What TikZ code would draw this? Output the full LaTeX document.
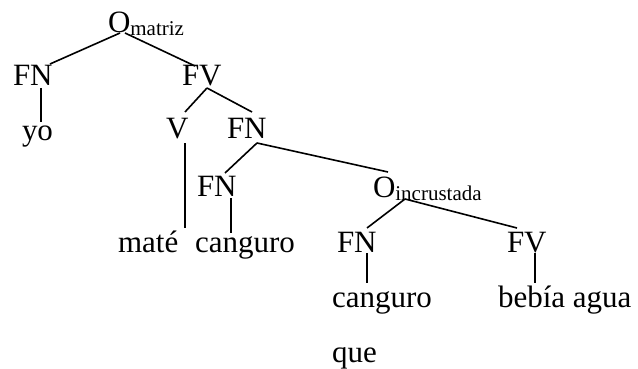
\documentclass[tikz,border=0pt]{standalone}
\usepackage{fontspec}
\setmainfont{Liberation Serif}
\usepackage{tikz}

% lowered small label after a category
\newcommand\subnom[1]{\raisebox{-3pt}{\fontsize{21}{25}\selectfont #1}}

\begin{document}
\begin{tikzpicture}[x=1pt,y=-1pt,
  word/.style={anchor=base west,inner sep=0pt,outer sep=0pt,font=\fontsize{31}{37}\selectfont},
  branch/.style={line width=1.6pt}]
\useasboundingbox (0,0) rectangle (638,369);

\node[word] (om)    at (108,33)  {O\subnom{matriz}};
\node[word] (fnA)   at (13,86)   {FN};
\node[word] (yo)    at (22,140)  {yo};
\node[word] (fvA)   at (182,86)  {FV};
\node[word] (v)     at (166,139) {V};
\node[word] (fnB)   at (227,139) {FN};
\node[word] (fnC)   at (197,196) {FN};
\node[word] (oi)    at (373,197) {O\subnom{incrustada}};
\node[word] (mate)  at (118,252) {maté};
\node[word] (cangA) at (195,252) {canguro};
\node[word] (fnD)   at (337,252) {FN};
\node[word] (fvB)   at (507,252) {FV};
\node[word] (cangB) at (332,307) {canguro};
\node[word] (bebia) at (498,307) {bebía agua};
\node[word] (que)   at (332,362) {que};

% main clause
\draw[branch] ([shift={(12,0)}]om.base west) -- ([shift={(37,-22)}]fnA.base west);
\draw[branch] ([shift={(17,0)}]om.base west) -- ([shift={(13,-20)}]fvA.base west);
\draw[branch] ([shift={(28,2)}]fnA.base west) -- ([shift={(19,-18)}]yo.base west);
\draw[branch] ([shift={(25,2)}]fvA.base west) -- ([shift={(19,-27)}]v.base west);
\draw[branch] ([shift={(25,2)}]fvA.base west) -- ([shift={(25,-27)}]fnB.base west);
\draw[branch] ([shift={(19,4)}]v.base west) -- ([shift={(67,-24)}]mate.base west);
\draw[branch] ([shift={(30,4)}]fnB.base west) -- ([shift={(28,-23)}]fnC.base west);
\draw[branch] ([shift={(30,4)}]fnB.base west) -- ([shift={(15,-25)}]oi.base west);
\draw[branch] ([shift={(34,2)}]fnC.base west) -- ([shift={(36,-19)}]cangA.base west);

% embedded clause
\draw[branch] ([shift={(32,2)}]oi.base west) -- ([shift={(30,-24)}]fnD.base west);
\draw[branch] ([shift={(32,2)}]oi.base west) -- ([shift={(10,-24)}]fvB.base west);
\draw[branch] ([shift={(30,1)}]fnD.base west) -- ([shift={(35,-24)}]cangB.base west);
\draw[branch] ([shift={(28,1)}]fvB.base west) -- ([shift={(37,-24)}]bebia.base west);

\end{tikzpicture}
\end{document}
